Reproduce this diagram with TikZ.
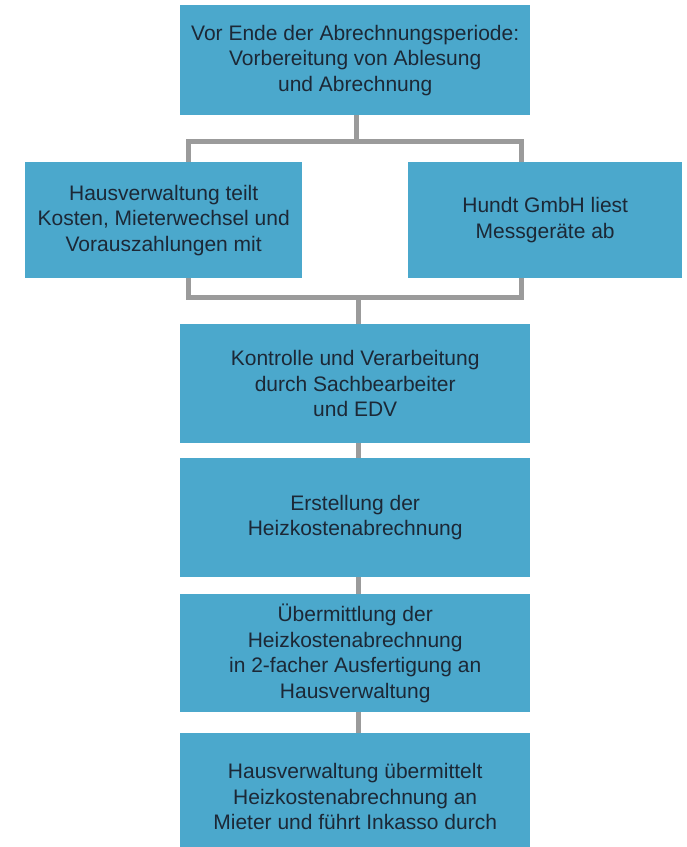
\documentclass[tikz,border=0pt]{standalone}
\usepackage{fontspec}
\setmainfont{Liberation Sans}
\definecolor{boxblue}{RGB}{75,168,204}
\definecolor{txt}{RGB}{28,40,54}
\definecolor{conn}{RGB}{155,155,155}
\begin{document}
\begin{tikzpicture}[x=1pt,y=-1pt,
  box/.style={fill=boxblue, draw=none, inner sep=0pt, align=center,
    text=txt, font=\fontsize{21}{25.5}\selectfont, anchor=north west},
  connline/.style={draw=conn, line width=5pt}]
\useasboundingbox (0,0) rectangle (687,847);
% nodes
\node[box, minimum width=350pt, minimum height=110pt] (top) at (180,5)
  {Vor Ende der Abrechnungsperiode:\\Vorbereitung von Ablesung\\und Abrechnung};
\node[box, minimum width=277pt, minimum height=116pt] (left) at (25,162)
  {Hausverwaltung teilt\\Kosten, Mieterwechsel und\\Vorauszahlungen mit};
\node[box, minimum width=274pt, minimum height=116pt] (right) at (408,162)
  {Hundt GmbH liest\\Messgeräte ab};
\node[box, minimum width=350pt, minimum height=119pt] (ctrl) at (180,324)
  {Kontrolle und Verarbeitung\\durch Sachbearbeiter\\und EDV};
\node[box, minimum width=350pt, minimum height=119pt] (erst) at (180,458)
  {Erstellung der\\Heizkostenabrechnung};
\node[box, minimum width=350pt, minimum height=118pt] (uebm) at (180,594)
  {Übermittlung der\\Heizkostenabrechnung\\in 2-facher Ausfertigung an\\Hausverwaltung};
\node[box, minimum width=350pt, minimum height=127pt] (hv) at (180,733)
  {Hausverwaltung übermittelt\\Heizkostenabrechnung an\\Mieter und führt Inkasso durch};
% junction coordinates
\coordinate (bartop) at (356,141);
\coordinate (barbot) at (358,297);
\coordinate (lx) at (188,0);
\coordinate (rx) at (521,0);
% connectors
\draw[connline] (top.south -| bartop) -- (bartop);
\draw[connline] (left.north -| lx) -- (bartop -| lx) -- (bartop -| rx) -- (right.north -| rx);
\draw[connline] (left.south -| lx) -- (barbot -| lx) -- (barbot -| rx) -- (right.south -| rx);
\draw[connline] (barbot) -- (ctrl.north -| barbot);
\draw[connline] (ctrl.south -| barbot) -- (erst.north -| barbot);
\draw[connline] (erst.south -| barbot) -- (uebm.north -| barbot);
\draw[connline] (uebm.south -| barbot) -- (hv.north -| barbot);
\end{tikzpicture}
\end{document}
